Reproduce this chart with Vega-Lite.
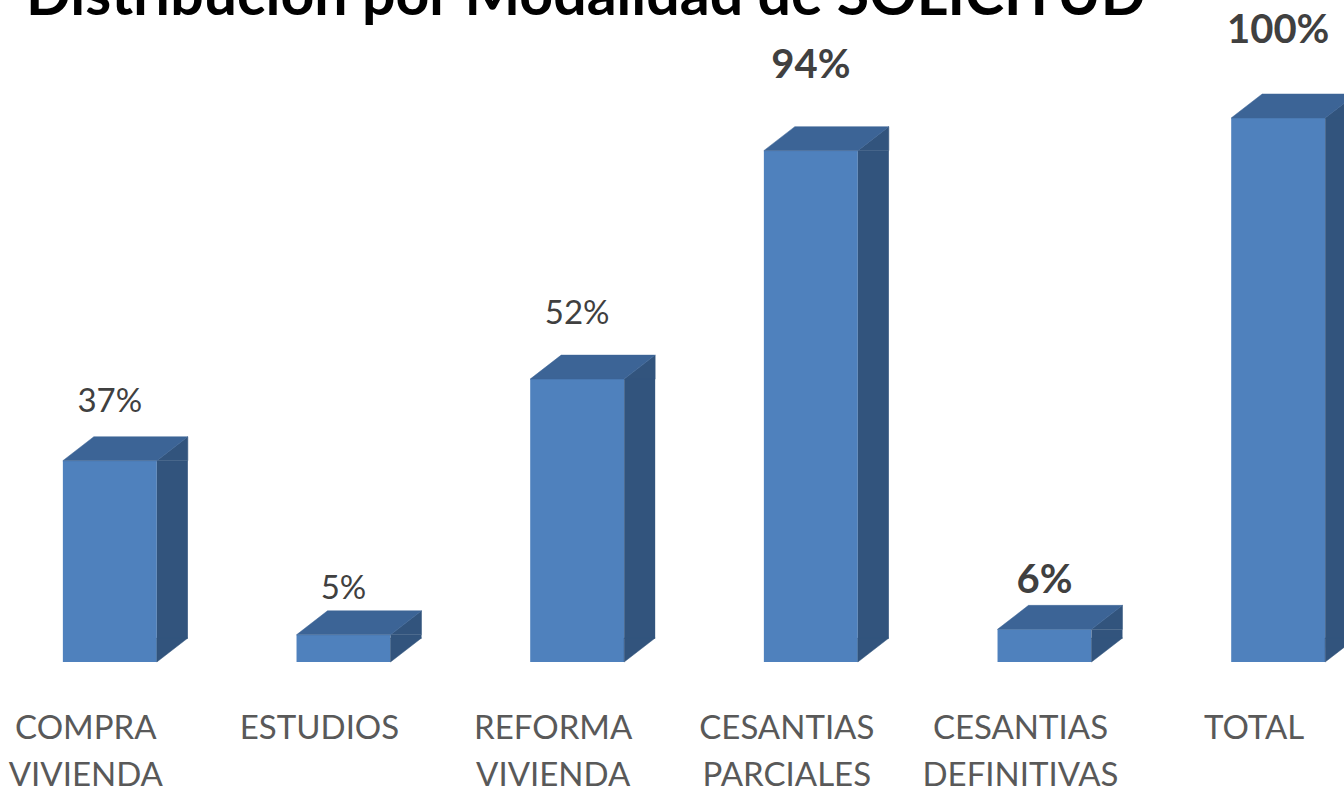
{
  "$schema": "https://vega.github.io/schema/vega-lite/v6.json",
  "width": 1344,
  "height": 662,
  "autosize": {"type": "none"},
  "padding": {"top": 0, "bottom": 126, "left": 0, "right": 0},
  "background": "white",
  "title": {
    "text": "Distribución por Modalidad de SOLICITUD",
    "anchor": "start",
    "frame": "group",
    "dx": 26,
    "offset": -74,
    "baseline": "alphabetic",
    "font": "Lato",
    "fontSize": 59,
    "fontWeight": "bold",
    "color": "#000000"
  },
  "data": {
    "values": [
      {"cat": "COMPRA VIVIENDA", "v": 0.37},
      {"cat": "ESTUDIOS", "v": 0.05},
      {"cat": "REFORMA VIVIENDA", "v": 0.52},
      {"cat": "CESANTIAS PARCIALES", "v": 0.94},
      {"cat": "CESANTIAS DEFINITIVAS", "v": 0.06},
      {"cat": "TOTAL", "v": 1.0}
    ]
  },
  "encoding": {
    "x": {
      "field": "cat",
      "type": "nominal",
      "sort": null,
      "scale": {"range": [-7, 1395], "paddingInner": 0.598, "paddingOuter": 0.299},
      "axis": {
        "title": null,
        "domain": false,
        "ticks": false,
        "tickSize": 0,
        "grid": false,
        "labelAngle": 0,
        "labelFont": "Lato",
        "labelFontSize": 33,
        "labelColor": "#595959",
        "labelPadding": 50,
        "labelBaseline": "top",
        "labelLineHeight": 47,
        "labelOffset": -24,
        "labelLimit": 600,
        "labelOverlap": false,
        "labelFlush": false,
        "labelBound": false,
        "labelExpr": "split(datum.label, ' ')"
      }
    }
  },
  "layer": [
    {
      "mark": {"type": "bar", "color": "#4F81BD", "opacity": 1, "width": {"band": 1}},
      "encoding": {
        "y": {"field": "v", "type": "quantitative", "scale": {"domain": [0, 1], "range": [662, 118], "nice": false}, "axis": null}
      }
    },
    {
      "mark": {"type": "rule", "color": "#32547D", "opacity": 1, "strokeWidth": 31, "strokeCap": "butt", "xOffset": 62.5, "y2Offset": -23.5},
      "encoding": {
        "y": {"field": "v", "type": "quantitative", "scale": {"domain": [0, 1], "range": [662, 118], "nice": false}, "axis": null},
        "y2": {"datum": 0}
      }
    },
    {
      "mark": {"type": "point", "shape": "M47,0L78,-24L78,0Z", "size": 4, "filled": true, "fill": "#32547D", "stroke": "#32547D", "strokeWidth": 0.5, "opacity": 1},
      "encoding": {
        "y": {"field": "v", "type": "quantitative", "scale": {"domain": [0, 1], "range": [662, 118], "nice": false}, "axis": null}
      }
    },
    {
      "mark": {"type": "point", "shape": "M47,0L47,-24L78,-24Z", "size": 4, "filled": true, "fill": "#32547D", "stroke": "#32547D", "strokeWidth": 0.5, "opacity": 1},
      "encoding": {
        "y": {"datum": 0, "type": "quantitative", "scale": {"domain": [0, 1], "range": [662, 118], "nice": false}, "axis": null}
      }
    },
    {
      "mark": {"type": "point", "shape": "M-47,0L47,0L78,-24L-16,-24Z", "size": 4, "filled": true, "fill": "#3C6496", "stroke": "#3C6496", "strokeWidth": 0.5, "opacity": 1},
      "encoding": {
        "y": {"field": "v", "type": "quantitative", "scale": {"domain": [0, 1], "range": [662, 118], "nice": false}, "axis": null}
      }
    },
    {
      "transform": [{"filter": {"not": {"field": "cat", "oneOf": ["CESANTIAS PARCIALES", "CESANTIAS DEFINITIVAS", "TOTAL"]}}}],
      "mark": {"type": "text", "font": "Lato", "fontSize": 33, "color": "#404040", "align": "center", "baseline": "alphabetic"},
      "encoding": {
        "y": {"field": "v", "type": "quantitative", "scale": {"domain": [0, 1], "range": [628, 43], "nice": false}, "axis": null},
        "text": {"field": "v", "type": "quantitative", "format": ".0%"}
      }
    },
    {
      "transform": [{"filter": {"field": "cat", "oneOf": ["CESANTIAS PARCIALES", "CESANTIAS DEFINITIVAS", "TOTAL"]}}],
      "mark": {"type": "text", "font": "Lato", "fontSize": 40, "fontWeight": "bold", "color": "#404040", "align": "center", "baseline": "alphabetic"},
      "encoding": {
        "y": {"field": "v", "type": "quantitative", "scale": {"domain": [0, 1], "range": [628, 43], "nice": false}, "axis": null},
        "text": {"field": "v", "type": "quantitative", "format": ".0%"}
      }
    }
  ],
  "resolve": {"scale": {"y": "independent"}},
  "config": {"view": {"stroke": null}}
}
